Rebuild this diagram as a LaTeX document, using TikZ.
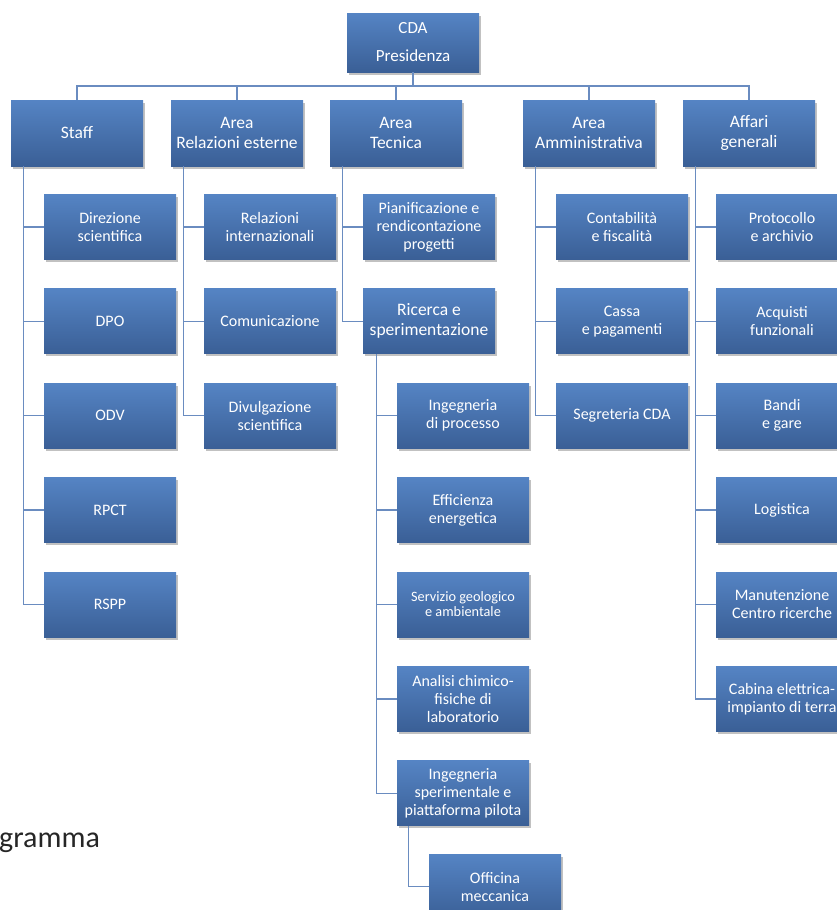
\documentclass[tikz,border=0pt]{standalone}
\usepackage{fontspec}
\setmainfont{Carlito}
\usepackage{tikz}
\usetikzlibrary{positioning,shadows}

\definecolor{boxtop}{HTML}{5584C4}
\definecolor{boxbot}{HTML}{3A5F96}
\definecolor{linecol}{HTML}{6A8CC0}

\tikzset{
  box/.style={rectangle, top color=boxtop, bottom color=boxbot, text=white,
    align=center, inner sep=2pt,
    drop shadow={shadow xshift=1.5pt, shadow yshift=-2.5pt, opacity=0.35, fill=black!70}},
  areabox/.style={box, minimum width=132pt, minimum height=66pt,
    font=\fontsize{17.5}{20}\selectfont},
  unitbox/.style={box, minimum width=132pt, minimum height=65pt,
    font=\fontsize{16}{18}\selectfont},
  link/.style={draw=linecol, line width=1.3pt}
}

\begin{document}
\begin{tikzpicture}[x=1pt,y=-1pt]
      \useasboundingbox (0,0) rectangle (837,910);
      \clip (0,0) rectangle (837,910);

      % top and areas
      \node[areabox, minimum height=59pt, font=\fontsize{17}{20}\selectfont] (cda) at (413,42.5) {CDA\\[8pt]Presidenza};
      \node[areabox] (staff) at (77,133) {Staff};
      \node[areabox] (relaz) at (237,133) {Area\\Relazioni esterne};
      \node[areabox] (tecnica) at (396,133) {Area\\Tecnica};
      \node[areabox] (ammin) at (589,133) {Area\\Amministrativa};
      \node[areabox] (affari) at (749,133) {Affari\\generali};

      \coordinate (bus) at (413,86);
      \draw[link] (cda.south) -- (bus);
      \foreach \a in {staff,relaz,tecnica,ammin,affari}
        \draw[link] (\a.north) |- (bus);

      % staff
      \node[unitbox, below=28pt of staff.south west, anchor=north west, xshift=33pt] (dirsci) {Direzione\\scientifica};
      \node[unitbox, below=29pt of dirsci] (dpo) {DPO};
      \node[unitbox, below=29pt of dpo] (odv) {ODV};
      \node[unitbox, below=29pt of odv] (rpct) {RPCT};
      \node[unitbox, below=29pt of rpct] (rspp) {RSPP};
      \foreach \c in {dirsci,dpo,odv,rpct,rspp}
        \draw[link] ([xshift=13pt]staff.south west) |- (\c.west);

      % relazioni esterne
      \node[unitbox, below=28pt of relaz.south west, anchor=north west, xshift=33pt] (relint) {Relazioni\\internazionali};
      \node[unitbox, below=29pt of relint] (comun) {Comunicazione};
      \node[unitbox, below=29pt of comun] (divulg) {Divulgazione\\scientifica};
      \foreach \c in {relint,comun,divulg}
        \draw[link] ([xshift=13pt]relaz.south west) |- (\c.west);

      % area tecnica
      \node[unitbox, below=28pt of tecnica.south west, anchor=north west, xshift=33pt] (pianif) {Pianificazione e\\rendicontazione\\progetti};
      \node[unitbox, below=29pt of pianif, font=\fontsize{17.5}{20}\selectfont] (ricerca) {Ricerca e\\sperimentazione};
      \foreach \c in {pianif,ricerca}
        \draw[link] ([xshift=13pt]tecnica.south west) |- (\c.west);

      \node[unitbox, below=29pt of ricerca.south west, anchor=north west, xshift=34pt] (ingproc) {Ingegneria\\di processo};
      \node[unitbox, below=29pt of ingproc] (effen) {Efficienza\\energetica};
      \node[unitbox, below=29pt of effen, font=\fontsize{14.3}{15}\selectfont] (geolog) {Servizio geologico\\e ambientale};
      \node[unitbox, below=29pt of geolog] (analisi) {Analisi chimico-\\fisiche di\\laboratorio};
      \node[unitbox, below=29pt of analisi] (ingsper) {Ingegneria\\sperimentale e\\piattaforma pilota};
      \foreach \c in {ingproc,effen,geolog,analisi,ingsper}
        \draw[link] ([xshift=14pt]ricerca.south west) |- (\c.west);

      \node[unitbox, below=28pt of ingsper.south west, anchor=north west, xshift=32pt] (officina) {Officina\\meccanica};
      \draw[link] ([xshift=12pt]ingsper.south west) |- (officina.west);

      % amministrativa
      \node[unitbox, below=28pt of ammin.south west, anchor=north west, xshift=33pt] (contab) {Contabilità\\e fiscalità};
      \node[unitbox, below=29pt of contab] (cassa) {Cassa\\e pagamenti};
      \node[unitbox, below=29pt of cassa] (segret) {Segreteria CDA};
      \foreach \c in {contab,cassa,segret}
        \draw[link] ([xshift=13pt]ammin.south west) |- (\c.west);

      % affari generali
      \node[unitbox, below=28pt of affari.south west, anchor=north west, xshift=33pt] (protoc) {Protocollo\\e archivio};
      \node[unitbox, below=29pt of protoc] (acquisti) {Acquisti\\funzionali};
      \node[unitbox, below=29pt of acquisti] (bandi) {Bandi\\e gare};
      \node[unitbox, below=29pt of bandi] (logist) {Logistica};
      \node[unitbox, below=29pt of logist] (manut) {Manutenzione\\Centro ricerche};
      \node[unitbox, below=29pt of manut] (cabina) {Cabina elettrica-\\impianto di terra};
      \foreach \c in {protoc,acquisti,bandi,logist,manut,cabina}
        \draw[link] ([xshift=13pt]affari.south west) |- (\c.west);

      \node[anchor=base west, inner sep=0pt, text=black!85, font=\fontsize{30}{34}\selectfont] (titolo) at (-1,847) {gramma};
    \end{tikzpicture}
\end{document}
